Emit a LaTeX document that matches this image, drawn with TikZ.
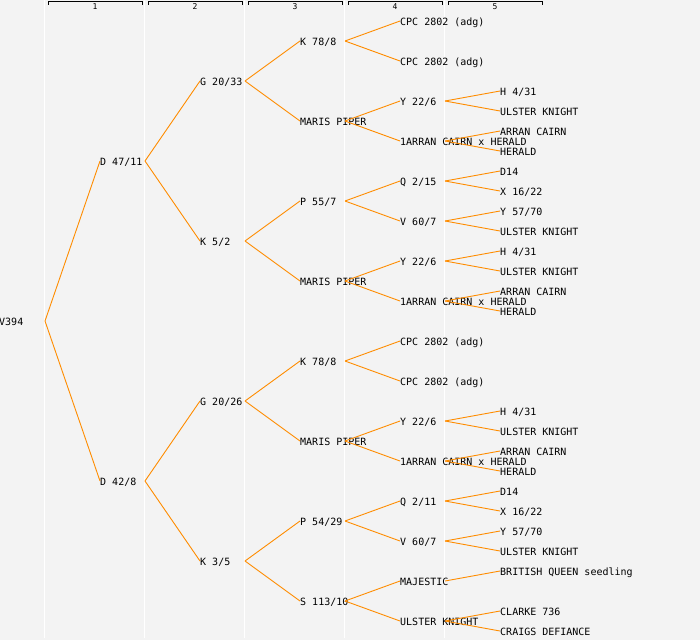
\documentclass[tikz,border=0pt]{standalone}
\usepackage{fontspec}
\setmonofont{DejaVu Sans Mono}
\definecolor{bgc}{RGB}{243,243,243}
\definecolor{edgec}{RGB}{255,140,0}
\tikzset{
  tl/.style={anchor=west, inner sep=0pt, text height=9pt, text depth=0pt,
    font=\ttfamily\fontsize{10}{10}\selectfont, text=black},
  hdr/.style={inner sep=0pt, font=\ttfamily\fontsize{8}{8}\selectfont, text=black},
  edge/.style={draw=edgec, line width=0.9pt},
  sep/.style={draw=white, line width=1pt},
  brk/.style={draw=black, line width=1pt}
}
\newcommand\tn[4]{\node[tl] (#1) at ({100*#2},#3) {#4}; \coordinate (#1o) at ({100*#2+45},#3);}
\newcommand\ed[2]{\draw[edge] (#1o) -- (#2.west);}
\begin{document}
\begin{tikzpicture}[x=1pt,y=-1pt]
\useasboundingbox (0,0) rectangle (700,640);
\fill[bgc] (0,0) rectangle (700,640);
% column separators
\foreach \c in {0,1,2,3,4} {\draw[sep] ({100*\c+44.5},0) -- ({100*\c+44.5},638);}
% column headers
\foreach \c in {1,2,3,4,5} {
  \draw[brk] ({100*\c-52},4.5) -- ({100*\c-52},1.5) -- ({100*\c+42},1.5) -- ({100*\c+42},4.5);
  \node[hdr] (h\c) at ({100*\c-5},7) {\c};
}
% root
\node[tl] (r) at (-1,321) {V394}; \coordinate (ro) at (45,321);
% depth 1
\tn{a}{1}{161}{D 47/11}
\tn{b}{1}{481}{D 42/8}
% depth 2
\tn{aa}{2}{81}{G 20/33}
\tn{ab}{2}{241}{K 5/2}
\tn{ba}{2}{401}{G 20/26}
\tn{bb}{2}{561}{K 3/5}
% depth 3
\tn{aaa}{3}{41}{K 78/8}
\tn{aab}{3}{121}{MARIS PIPER}
\tn{aba}{3}{201}{P 55/7}
\tn{abb}{3}{281}{MARIS PIPER}
\tn{baa}{3}{361}{K 78/8}
\tn{bab}{3}{441}{MARIS PIPER}
\tn{bba}{3}{521}{P 54/29}
\tn{bbb}{3}{601}{S 113/10}
% depth 4
\tn{aaaa}{4}{21}{CPC 2802 (adg)}
\tn{aaab}{4}{61}{CPC 2802 (adg)}
\tn{aaba}{4}{101}{Y 22/6}
\tn{aabb}{4}{141}{1ARRAN CAIRN x HERALD}
\tn{abaa}{4}{181}{Q 2/15}
\tn{abab}{4}{221}{V 60/7}
\tn{abba}{4}{261}{Y 22/6}
\tn{abbb}{4}{301}{1ARRAN CAIRN x HERALD}
\tn{baaa}{4}{341}{CPC 2802 (adg)}
\tn{baab}{4}{381}{CPC 2802 (adg)}
\tn{baba}{4}{421}{Y 22/6}
\tn{babb}{4}{461}{1ARRAN CAIRN x HERALD}
\tn{bbaa}{4}{501}{Q 2/11}
\tn{bbab}{4}{541}{V 60/7}
\tn{bbba}{4}{581}{MAJESTIC}
\tn{bbbb}{4}{621}{ULSTER KNIGHT}
% depth 5
\tn{aabaa}{5}{91}{H 4/31}
\tn{aabab}{5}{111}{ULSTER KNIGHT}
\tn{aabba}{5}{131}{ARRAN CAIRN}
\tn{aabbb}{5}{151}{HERALD}
\tn{abaaa}{5}{171}{D14}
\tn{abaab}{5}{191}{X 16/22}
\tn{abab1}{5}{211}{Y 57/70}
\tn{abab2}{5}{231}{ULSTER KNIGHT}
\tn{abbaa}{5}{251}{H 4/31}
\tn{abbab}{5}{271}{ULSTER KNIGHT}
\tn{abbba}{5}{291}{ARRAN CAIRN}
\tn{abbbb}{5}{311}{HERALD}
\tn{babaa}{5}{411}{H 4/31}
\tn{babab}{5}{431}{ULSTER KNIGHT}
\tn{babba}{5}{451}{ARRAN CAIRN}
\tn{babbb}{5}{471}{HERALD}
\tn{bbaaa}{5}{491}{D14}
\tn{bbaab}{5}{511}{X 16/22}
\tn{bbab1}{5}{531}{Y 57/70}
\tn{bbab2}{5}{551}{ULSTER KNIGHT}
\tn{bbbaa}{5}{571}{BRITISH QUEEN seedling}
\tn{bbbba}{5}{611}{CLARKE 736}
\tn{bbbbb}{5}{631}{CRAIGS DEFIANCE}
% edges
\ed{r}{a} \ed{r}{b}
\ed{a}{aa} \ed{a}{ab} \ed{b}{ba} \ed{b}{bb}
\ed{aa}{aaa} \ed{aa}{aab} \ed{ab}{aba} \ed{ab}{abb}
\ed{ba}{baa} \ed{ba}{bab} \ed{bb}{bba} \ed{bb}{bbb}
\ed{aaa}{aaaa} \ed{aaa}{aaab} \ed{aab}{aaba} \ed{aab}{aabb}
\ed{aba}{abaa} \ed{aba}{abab} \ed{abb}{abba} \ed{abb}{abbb}
\ed{baa}{baaa} \ed{baa}{baab} \ed{bab}{baba} \ed{bab}{babb}
\ed{bba}{bbaa} \ed{bba}{bbab} \ed{bbb}{bbba} \ed{bbb}{bbbb}
\ed{aaba}{aabaa} \ed{aaba}{aabab} \ed{aabb}{aabba} \ed{aabb}{aabbb}
\ed{abaa}{abaaa} \ed{abaa}{abaab} \ed{abab}{abab1} \ed{abab}{abab2}
\ed{abba}{abbaa} \ed{abba}{abbab} \ed{abbb}{abbba} \ed{abbb}{abbbb}
\ed{baba}{babaa} \ed{baba}{babab} \ed{babb}{babba} \ed{babb}{babbb}
\ed{bbaa}{bbaaa} \ed{bbaa}{bbaab} \ed{bbab}{bbab1} \ed{bbab}{bbab2}
\ed{bbba}{bbbaa} \ed{bbbb}{bbbba} \ed{bbbb}{bbbbb}
\end{tikzpicture}
\end{document}
